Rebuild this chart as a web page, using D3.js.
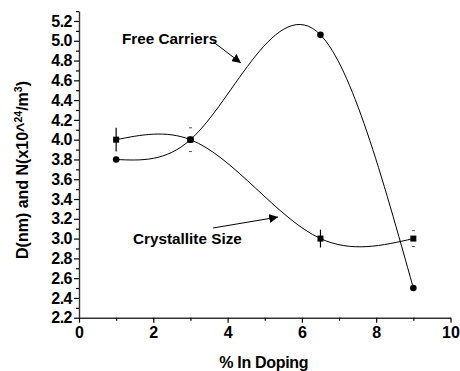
<!DOCTYPE html>
<html lang="en">
<head>
<meta charset="utf-8">
<script src="https://d3js.org/d3.v7.min.js"></script>
<style>
  body { margin: 0; background: #fff; }
  text { font-family: "Liberation Sans", Arial, sans-serif; font-weight: bold; fill: #000; }
</style>
</head>
<body>
<script>
// data
var doping = [1, 3, 6.5, 9];
var freeCarriers = [3.8, 4.0, 5.06, 2.5];
var crystallite = [4.0, 4.0, 3.0, 3.0];
var crystalliteErr = [0.12, 0.12, 0.09, 0.08];
var errStemShown = [true, false, true, false]; // stems hidden under the marks in the original
var xTicks = [0, 2, 4, 6, 8, 10];
var xMinor = [1, 3, 5, 7, 9];
var yTicks = d3.range(22, 53, 2).map(function(d) { return d / 10; });
var yMinor = d3.range(23, 54, 2).map(function(d) { return d / 10; });

var width = 460, height = 371;

var svg = d3.select("body").append("svg")
  .attr("width", width)
  .attr("height", height);

var x = d3.scaleLinear().domain([0, 10]).range([79, 450.5]);
var y = d3.scaleLinear().domain([2.2, 5.3]).range([317.7, 11.1]);

// natural cubic spline in x (like Origin's "spline" connect), drawn as beziers
function curveSplineX(context) {
  var pts;
  return {
    areaStart: function() {}, areaEnd: function() {},
    lineStart: function() { pts = []; },
    point: function(px, py) { pts.push([+px, +py]); },
    lineEnd: function() {
      var n = pts.length;
      if (!n) return;
      context.moveTo(pts[0][0], pts[0][1]);
      if (n < 3) { if (n == 2) context.lineTo(pts[1][0], pts[1][1]); return; }
      var h = [], d = [], i;
      for (i = 0; i < n - 1; i++) {
        h[i] = pts[i + 1][0] - pts[i][0];
        d[i] = (pts[i + 1][1] - pts[i][1]) / h[i];
      }
      // tridiagonal solve for second derivatives, natural ends
      var M = new Array(n).fill(0), a = [], b = [], c = [], r = [];
      for (i = 1; i < n - 1; i++) {
        a[i] = h[i - 1]; b[i] = 2 * (h[i - 1] + h[i]); c[i] = h[i];
        r[i] = 6 * (d[i] - d[i - 1]);
      }
      for (i = 2; i < n - 1; i++) {
        var w = a[i] / b[i - 1];
        b[i] -= w * c[i - 1];
        r[i] -= w * r[i - 1];
      }
      for (i = n - 2; i >= 1; i--) {
        M[i] = (r[i] - (i < n - 2 ? c[i] * M[i + 1] : 0)) / b[i];
      }
      for (i = 0; i < n - 1; i++) {
        var m0 = d[i] - h[i] * (2 * M[i] + M[i + 1]) / 6;
        var m1 = d[i] + h[i] * (M[i] + 2 * M[i + 1]) / 6;
        var x0 = pts[i][0], y0 = pts[i][1], x1 = pts[i + 1][0], y1 = pts[i + 1][1];
        context.bezierCurveTo(x0 + h[i] / 3, y0 + m0 * h[i] / 3,
                              x1 - h[i] / 3, y1 - m1 * h[i] / 3, x1, y1);
      }
    }
  };
}

// axes
var xAxis = svg.append("g")
  .attr("transform", "translate(0," + y(2.2) + ")")
  .call(d3.axisBottom(x).tickValues(xTicks).tickSize(5).tickSizeOuter(0).tickPadding(4));
xAxis.selectAll("text").style("font-size", "16px");

svg.append("g")
  .attr("transform", "translate(0," + y(2.2) + ")")
  .call(d3.axisBottom(x).tickValues(xMinor).tickSize(3).tickFormat(""))
  .select(".domain").remove();

var yAxis = svg.append("g")
  .attr("transform", "translate(" + x(0) + ",0)")
  .call(d3.axisLeft(y).tickValues(yTicks).tickSize(5).tickSizeOuter(0).tickPadding(2).tickFormat(d3.format(".1f")));
yAxis.selectAll("text").style("font-size", "16px").style("letter-spacing", "-0.5px");

svg.append("g")
  .attr("transform", "translate(" + x(0) + ",0)")
  .call(d3.axisLeft(y).tickValues(yMinor).tickSize(3).tickFormat(""))
  .select(".domain").remove();

svg.selectAll(".domain").attr("stroke", "#333").attr("stroke-width", 1.4);
svg.selectAll(".tick line").attr("stroke-width", 1.2);

// axis titles
svg.append("text")
  .attr("x", (x(0) + x(10)) / 2 - 1)
  .attr("y", 368)
  .attr("text-anchor", "middle")
  .style("font-size", "16px")
  .style("letter-spacing", "-0.3px")
  .text("% In Doping");

var yl = svg.append("text")
  .attr("transform", "translate(28,170) rotate(-90)")
  .attr("text-anchor", "middle")
  .style("font-size", "16px");
yl.append("tspan").text("D(nm) and N(x10^");
yl.append("tspan").attr("dy", -6).style("font-size", "10.5px").text("24");
yl.append("tspan").attr("dy", 6).text("/m");
yl.append("tspan").attr("dy", -6).style("font-size", "10.5px").text("3");
yl.append("tspan").attr("dy", 6).text(")");

// curves
var line = d3.line()
  .x(function(d) { return x(d[0]); })
  .y(function(d) { return y(d[1]); })
  .curve(curveSplineX);

var fc = doping.map(function(d, i) { return [d, freeCarriers[i]]; });
var cs = doping.map(function(d, i) { return [d, crystallite[i]]; });

svg.append("path").datum(fc).attr("d", line)
  .attr("fill", "none").attr("stroke", "#000").attr("stroke-width", 1);
svg.append("path").datum(cs).attr("d", line)
  .attr("fill", "none").attr("stroke", "#000").attr("stroke-width", 1);

// error bars
var eb = svg.selectAll(".err").data(cs).enter().append("g");
eb.filter(function(d, i) { return errStemShown[i]; }).append("line")
  .attr("x1", function(d) { return x(d[0]); })
  .attr("x2", function(d) { return x(d[0]); })
  .attr("y1", function(d, i) { return y(d[1] + crystalliteErr[doping.indexOf(d[0])]); })
  .attr("y2", function(d, i) { return y(d[1] - crystalliteErr[doping.indexOf(d[0])]); })
  .attr("stroke", "#000").attr("stroke-width", 1.2);
eb.filter(function(d, i) { return !errStemShown[i]; }).each(function(d) {
  var e = crystalliteErr[doping.indexOf(d[0])];
  [e, -e].forEach(function(s) {
    d3.select(this).append("line")
      .attr("x1", x(d[0]) - 1.5).attr("x2", x(d[0]) + 1.5)
      .attr("y1", y(d[1] + s)).attr("y2", y(d[1] + s))
      .attr("stroke", "#555").attr("stroke-width", 1);
  }, this);
});

// markers
svg.selectAll(".sq").data(cs).enter().append("rect")
  .attr("x", function(d) { return x(d[0]) - 3; })
  .attr("y", function(d) { return y(d[1]) - 3; })
  .attr("width", 6).attr("height", 6)
  .attr("fill", "#000");

svg.selectAll(".dot").data(fc).enter().append("circle")
  .attr("cx", function(d) { return x(d[0]); })
  .attr("cy", function(d) { return y(d[1]); })
  .attr("r", 3.3)
  .attr("fill", "#000");

// annotations
var defs = svg.append("defs");
defs.append("marker")
  .attr("id", "arr")
  .attr("viewBox", "0 0 10 10")
  .attr("refX", 10).attr("refY", 5)
  .attr("markerWidth", 9).attr("markerHeight", 9)
  .attr("markerUnits", "userSpaceOnUse")
  .attr("orient", "auto")
  .append("path").attr("d", "M0,0L10,5L0,10z").attr("fill", "#000");

svg.append("text")
  .attr("x", 122).attr("y", 44)
  .style("font-size", "15.3px")
  .text("Free Carriers");
svg.append("line")
  .attr("x1", x(3.61)).attr("y1", y(4.99))
  .attr("x2", x(4.36)).attr("y2", y(4.775))
  .attr("stroke", "#000").attr("stroke-width", 1)
  .attr("marker-end", "url(#arr)");

svg.append("text")
  .attr("x", 133).attr("y", 244)
  .style("font-size", "15.3px")
  .text("Crystallite Size");
svg.append("line")
  .attr("x1", x(3.61)).attr("y1", y(3.107))
  .attr("x2", x(5.36)).attr("y2", y(3.218))
  .attr("stroke", "#000").attr("stroke-width", 1)
  .attr("marker-end", "url(#arr)");
</script>
</body>
</html>
